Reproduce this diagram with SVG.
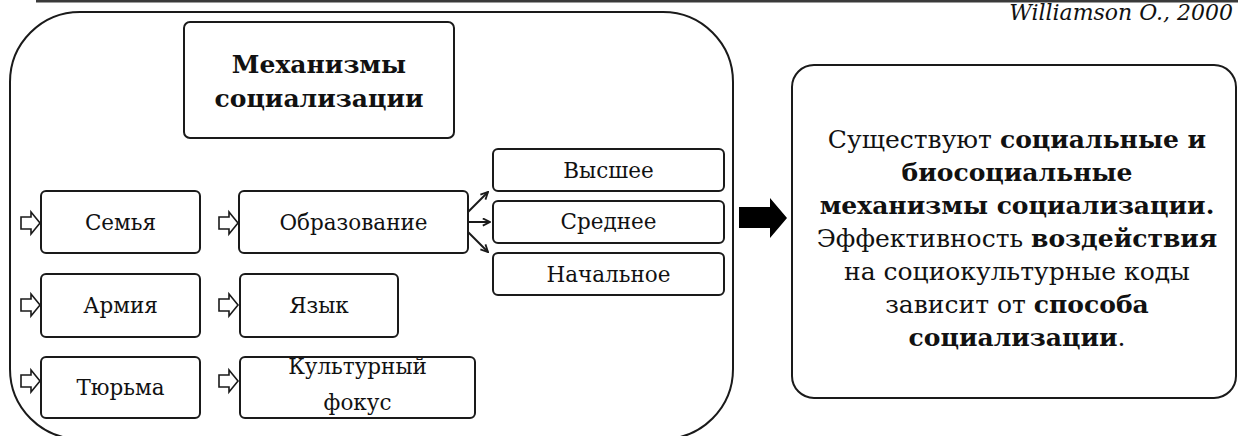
<svg xmlns="http://www.w3.org/2000/svg" width="1238" height="436" viewBox="0 0 1238 436">
<style>
.box{fill:#fff;stroke:#1a1a1a;stroke-width:2}
.t{font-family:"DejaVu Serif","Liberation Serif",serif;font-size:21.5px;fill:#111;text-anchor:middle}
.ttl{font-size:25px;font-weight:bold}
.big{font-size:25px}
.b{font-weight:bold}
.cite{font-family:"DejaVu Serif","Liberation Serif",serif;font-style:italic;font-size:22px;fill:#111;text-anchor:end}
.hollow{fill:#fff;stroke:#1a1a1a;stroke-width:1.6;stroke-linejoin:miter}
.conn{fill:none;stroke:#1a1a1a;stroke-width:2}
</style>
<defs>
<marker id="v" viewBox="0 0 10 10" refX="9" refY="5" markerWidth="9" markerHeight="9" orient="auto" markerUnits="userSpaceOnUse">
<path d="M1,1 L9,5 L1,9" fill="none" stroke="#1a1a1a" stroke-width="2"/>
</marker>
</defs>
<rect width="1238" height="436" fill="#fff"/>
<line x1="36" y1="1.2" x2="1238" y2="1.2" stroke="#3a3a3a" stroke-width="2.6"/>
<text class="cite" x="1233" y="20">Williamson O., 2000</text>

<g id="panel">
<rect x="10" y="12" width="723" height="427" rx="70" ry="70" fill="none" stroke="#1a1a1a" stroke-width="2"/>
</g>

<g id="title">
<rect class="box" x="184" y="22" width="270" height="116" rx="6"/>
<text class="t ttl" x="319" y="73">Механизмы</text>
<text class="t ttl" x="319" y="107">социализации</text>
</g>

<g id="semya"><rect class="box" x="41" y="191" width="159" height="62" rx="5"/><text class="t" x="120.5" y="230">Семья</text></g>
<g id="obrazovanie"><rect class="box" x="239" y="191" width="229" height="62" rx="5"/><text class="t" x="353.5" y="230">Образование</text></g>
<g id="armiya"><rect class="box" x="41" y="274" width="159" height="63" rx="5"/><text class="t" x="120.5" y="313">Армия</text></g>
<g id="yazyk"><rect class="box" x="240" y="274" width="158" height="63" rx="5"/><text class="t" x="319" y="313">Язык</text></g>
<g id="tyurma"><rect class="box" x="41" y="357" width="159" height="61" rx="5"/><text class="t" x="120.5" y="395">Тюрьма</text></g>
<g id="kultura"><rect class="box" x="240" y="357" width="235" height="61" rx="5"/><text class="t" x="357.5" y="374">Культурный</text><text class="t" x="357.5" y="410">фокус</text></g>
<g id="vysshee"><rect class="box" x="493" y="149" width="231" height="42" rx="5"/><text class="t" x="608.5" y="178">Высшее</text></g>
<g id="srednee"><rect class="box" x="493" y="201" width="231" height="42" rx="5"/><text class="t" x="608.5" y="229">Среднее</text></g>
<g id="nachalnoe"><rect class="box" x="493" y="253" width="231" height="42" rx="5"/><text class="t" x="608.5" y="282">Начальное</text></g>

<g id="conclusion">
<rect class="box" x="792" y="65" width="444" height="333" rx="22"/>
<text class="t big" x="1017" y="148">Существуют <tspan class="b">социальные и</tspan></text>
<text class="t big b" x="1017" y="181">биосоциальные</text>
<text class="t big b" x="1017" y="214">механизмы социализации.</text>
<text class="t big" x="1017" y="247">Эффективность <tspan class="b">воздействия</tspan></text>
<text class="t big" x="1017" y="280">на социокультурные коды</text>
<text class="t big" x="1017" y="313">зависит от <tspan class="b">способа</tspan></text>
<text class="t big" x="1017" y="346"><tspan class="b">социализации</tspan>.</text>
</g>

<g id="connectors">
<path class="hollow" d="M21,217 L31,217 L31,212 L40,223 L31,234 L31,229 L21,229 Z"/>
<path class="hollow" d="M219,217 L229,217 L229,212 L238,223 L229,234 L229,229 L219,229 Z"/>
<path class="hollow" d="M21,299 L31,299 L31,294 L40,305 L31,316 L31,311 L21,311 Z"/>
<path class="hollow" d="M219,299 L229,299 L229,294 L238,305 L229,316 L229,311 L219,311 Z"/>
<path class="hollow" d="M21,375 L31,375 L31,370 L40,381 L31,392 L31,387 L21,387 Z"/>
<path class="hollow" d="M219,375 L229,375 L229,370 L238,381 L229,392 L229,387 L219,387 Z"/>
<line class="conn" x1="468" y1="212" x2="488" y2="192" marker-end="url(#v)"/>
<line class="conn" x1="468" y1="222" x2="490" y2="222" marker-end="url(#v)"/>
<line class="conn" x1="468" y1="232" x2="488" y2="252" marker-end="url(#v)"/>
<path d="M739,207 L770,207 L770,198 L787,218 L770,238 L770,228 L739,228 Z" fill="#000"/>
</g>
</svg>
